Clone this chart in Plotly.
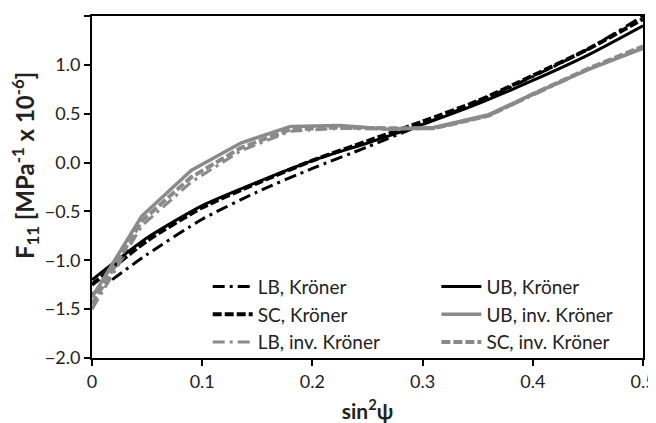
import plotly.graph_objects as go

x = [0, 0.045, 0.09, 0.135, 0.18, 0.225, 0.27, 0.31, 0.36, 0.4, 0.45, 0.5]
xk = [0, 0.05, 0.1, 0.15, 0.2, 0.25, 0.3, 0.35, 0.4, 0.45, 0.5]

lb_kroner = [-1.35, -0.94, -0.58, -0.3, -0.06, 0.16, 0.39, 0.62, 0.88, 1.16, 1.5]
sc_kroner = [-1.25, -0.8, -0.46, -0.21, 0.02, 0.22, 0.42, 0.63, 0.89, 1.16, 1.47]
ub_kroner = [-1.2, -0.77, -0.44, -0.2, 0.02, 0.2, 0.39, 0.6, 0.84, 1.1, 1.4]

ub_inv = [-1.38, -0.55, -0.08, 0.2, 0.37, 0.38, 0.34, 0.36, 0.49, 0.7, 0.95, 1.17]
lb_inv = [-1.5, -0.65, -0.2, 0.12, 0.32, 0.35, 0.34, 0.35, 0.48, 0.69, 0.95, 1.18]
sc_inv = [-1.45, -0.6, -0.15, 0.15, 0.34, 0.36, 0.35, 0.35, 0.48, 0.7, 0.96, 1.19]

x_ticks = [0, 0.1, 0.2, 0.3, 0.4, 0.5]
x_ticklabels = ["0", "0.1", "0.2", "0.3", "0.4", "0.5"]
y_ticks = [-2.0, -1.5, -1.0, -0.5, 0.0, 0.5, 1.0, 1.5]

GRAY = "#8a8a8a"
FONT = "Lato"
DASHDOT = "12px,5px,3px,5px"

fig = go.Figure()
fig.add_trace(go.Scatter(x=xk, y=lb_kroner, mode="lines", name="LB, Kröner",
                         line=dict(color="black", width=3, dash=DASHDOT, shape="spline", smoothing=0.6),
                         legend="legend"))
fig.add_trace(go.Scatter(x=xk, y=sc_kroner, mode="lines", name="SC, Kröner",
                         line=dict(color="black", width=4, dash="9px,3px", shape="spline", smoothing=0.6),
                         legend="legend"))
fig.add_trace(go.Scatter(x=x, y=lb_inv, mode="lines", name="LB, inv. Kröner",
                         line=dict(color=GRAY, width=3, dash=DASHDOT), legend="legend"))
fig.add_trace(go.Scatter(x=xk, y=ub_kroner, mode="lines", name="UB, Kröner",
                         line=dict(color="black", width=3, shape="spline", smoothing=0.6),
                         legend="legend2"))
fig.add_trace(go.Scatter(x=x, y=ub_inv, mode="lines", name="UB, inv. Kröner",
                         line=dict(color=GRAY, width=3.5), legend="legend2"))
fig.add_trace(go.Scatter(x=x, y=sc_inv, mode="lines", name="SC, inv. Kröner",
                         line=dict(color=GRAY, width=4, dash="9px,3px"), legend="legend2"))

leg_common = dict(yanchor="top", xanchor="left", bgcolor="rgba(0,0,0,0)",
                  font=dict(size=19, color="#222"), tracegroupgap=0, itemwidth=40)

# page body adds ~8px offset; figure sized to fit the 656x423 window
fig.update_layout(
    width=648, height=415,
    margin=dict(l=84, r=13, t=8, b=65),
    plot_bgcolor="white", paper_bgcolor="white",
    font=dict(family=FONT, size=18, color="#222"),
    showlegend=True,
    legend=dict(x=0.21, y=0.264, **leg_common),
    legend2=dict(x=0.625, y=0.264, **leg_common),
    xaxis=dict(range=[0, 0.5], tickvals=x_ticks, ticktext=x_ticklabels, automargin=False,
               showgrid=False, zeroline=False, showline=True, linecolor="black", linewidth=2,
               mirror=True, ticks="outside", ticklen=6, tickwidth=2, tickcolor="black",
               tickfont=dict(size=18),
               title=dict(text="<b>sin<sup>2</sup>ψ</b>", font=dict(size=21), standoff=20)),
    yaxis=dict(range=[-2.0, 1.5], tickvals=y_ticks, tickformat=".1f", automargin=False,
               showgrid=False, zeroline=False, showline=True, linecolor="black", linewidth=2,
               mirror=True, ticks="outside", ticklen=6, tickwidth=2, tickcolor="black",
               tickfont=dict(size=18)),
    annotations=[dict(text="<b>F<sub>11</sub> [MPa<sup>-1</sup> x 10<sup>-6</sup>]</b>",
                      textangle=-90, xref="paper", yref="paper", x=-0.158, y=0.564,
                      xanchor="left", yanchor="middle", showarrow=False,
                      font=dict(size=24, family=FONT, color="#222"))],
)

fig.write_html("out.html")
